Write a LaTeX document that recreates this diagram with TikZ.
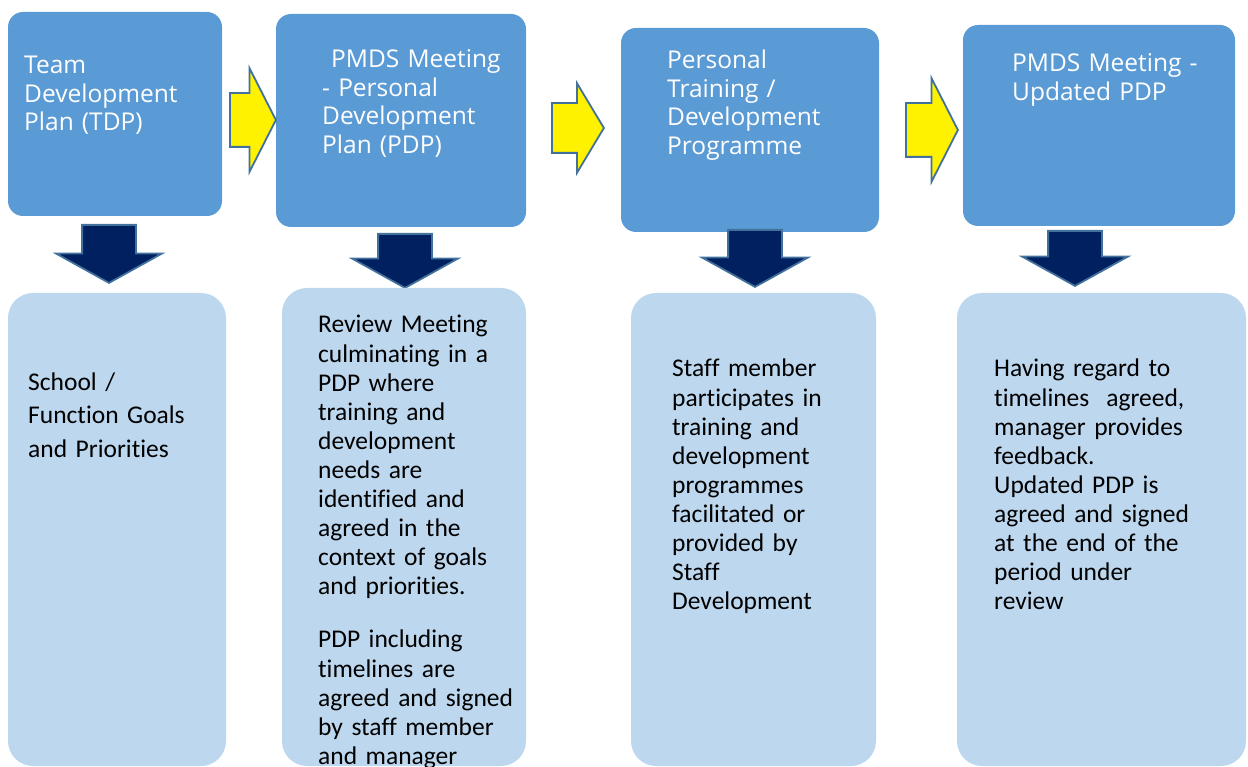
\documentclass[tikz,border=0pt]{standalone}
\usepackage{fontspec}
\newfontfamily\headfont{Open Sans}
\newfontfamily\bodyfont{Carlito}[Ligatures={NoCommon,NoContextual}]
\usetikzlibrary{shapes.arrows}
\definecolor{headblue}{HTML}{5B9BD5}
\definecolor{paleblue}{HTML}{BDD7EE}
\definecolor{navy}{HTML}{002060}
\definecolor{edgeblue}{HTML}{41719C}

\begin{document}
\begin{tikzpicture}[x=1pt, y=-1pt,
    topbox/.style={rectangle, rounded corners=15, fill=headblue, inner sep=0},
    lowbox/.style={rectangle, rounded corners=25, fill=paleblue, inner sep=0},
    toptext/.style={anchor=base west, inner sep=0, text width=270, align=left,
      text=white, font=\headfont\fontsize{24.5}{28.4}\selectfont},
    lowtext/.style={anchor=base west, inner sep=0, text width=270, align=left,
      text=black, font=\bodyfont\fontsize{25.5}{29.1}\selectfont},
    nextarrow/.style={single arrow, anchor=tail, draw=edgeblue, line width=1.8,
      fill=yellow, inner xsep=0, inner ysep=26, single arrow head extend=25,
      single arrow tip angle=126, minimum width=102},
    downarrow/.style={single arrow, anchor=tail, shape border rotate=270,
      draw=edgeblue, line width=1.8, fill=navy, inner xsep=26, inner ysep=0,
      single arrow head extend=26, single arrow tip angle=122, minimum width=104}]

  \useasboundingbox (0,0) rectangle (1248,767);

  \node[topbox, minimum width=214, minimum height=204] (tdp) at (115,114) {};
  \node[topbox, minimum width=250, minimum height=213] (pdp) at (401,120.5) {};
  \node[topbox, minimum width=258, minimum height=204] (train) at (750,130) {};
  \node[topbox, minimum width=272, minimum height=201] (update) at (1099,125.5) {};

  \node[toptext] (tdp-txt) at (24,74) {Team\\Development\\Plan (TDP)};
  \node[toptext] (pdp-txt) at (322,68) {\hspace*{9pt}PMDS Meeting\\- Personal\\Development\\Plan (PDP)};
  \node[toptext] (train-txt) at (667,69) {Personal\\Training /\\Development\\Programme};
  \node[toptext] (update-txt) at (1012,72) {PMDS Meeting -\\Updated PDP};

  \node[nextarrow, minimum height=46] (go1) at (229,120) {};
  \node[nextarrow, minimum height=52, inner ysep=24, single arrow head extend=20,
    minimum width=88, single arrow tip angle=118] (go2) at (551,128) {};
  \node[nextarrow, minimum height=52] (go3) at (905,130) {};

  \node[downarrow, minimum height=58] (dn1) at (109,224) {};
  \node[downarrow, minimum height=54] (dn2) at (405,233) {};
  \node[downarrow, minimum height=57] (dn3) at (755,229) {};
  \node[downarrow, minimum height=55] (dn4) at (1075,230) {};

  \node[lowbox, minimum width=218, minimum height=473] (goals) at (117,529.5) {};
  \node[lowbox, minimum width=244, minimum height=478] (review) at (404,527) {};
  \node[lowbox, minimum width=245, minimum height=473] (staff) at (753.5,529.5) {};
  \node[lowbox, minimum width=289, minimum height=473] (feedback) at (1101.5,529.5) {};

  \node[lowtext, font=\bodyfont\fontsize{25.5}{33.5}\selectfont] (goals-txt) at (28,390)
    {School /\\Function Goals\\and Priorities};
  \node[lowtext] (review-txt) at (318,333)
    {Review Meeting\\culminating in a\\PDP where\\training and\\development\\needs are\\identified and\\agreed in the\\context of goals\\and priorities.\\[24pt]PDP including\\timelines are\\agreed and signed\\by staff member\\and manager};
  \node[lowtext] (staff-txt) at (672,377)
    {Staff member\\participates in\\training and\\development\\programmes\\facilitated or\\provided by\\Staff\\Development};
  \node[lowtext] (feedback-txt) at (994,377)
    {Having regard to\\timelines \ agreed,\\manager provides\\feedback.\\Updated PDP is\\agreed and signed\\at the end of the\\period under\\review};
\end{tikzpicture}
\end{document}
